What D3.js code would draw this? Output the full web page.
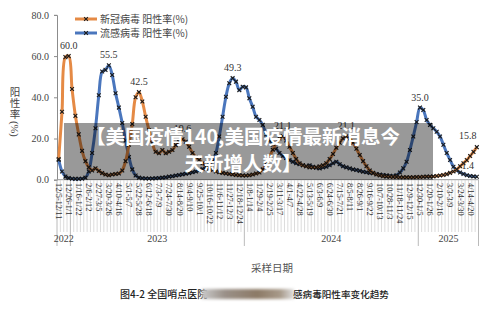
<!DOCTYPE html>
<html>
<head>
<meta charset="utf-8">
<script src="https://cdn.jsdelivr.net/npm/d3@7"></script>
<style>
  html, body { margin: 0; padding: 0; background: #fff; }
  svg { display: block; }
</style>
</head>
<body>
<div id="chart"></div>
<script>
// weekly positivity rate (%), 2022-12-05 .. 2025-05-04
const covid = [
  10, 33, 59.5, 60.0, 44, 31, 22, 14, 9, 6,
  4.5, 5.5, 4.2, 3.2, 2.5, 2.2, 2.5, 2.8, 3, 4.5,
  9, 17, 27, 40, 42.5, 38, 30.6, 24, 17.7, 13.6,
  12.8, 14.4, 12.8, 13.6, 14.4, 16.8, 18.4, 19.6, 18.4, 16,
  13, 11, 9.6, 8, 6.3, 5.5, 4.7, 4, 3.6, 3.3,
  3, 2.8, 2.5, 2.3, 2.2, 2, 2, 2.2, 2.5, 3,
  3.5, 5, 7.5, 11, 14.5, 17.5, 20, 21.1, 19, 16,
  13, 10, 8, 7, 6.5, 6, 6, 6, 6.5, 7,
  8, 10, 12.5, 15.5, 18, 20, 21.1, 20, 18, 15,
  12, 9, 6.5, 4.5, 3.3, 2.5, 2, 1.7, 1.5, 1.4,
  1.3, 1.3, 1.2, 1.2, 1.2, 1.2, 1.2, 1.3, 1.3, 1.4,
  1.5, 1.5, 1.6, 1.8, 2, 2.3, 2.7, 3.3, 4, 5,
  6.5, 8, 9.5, 11.5, 13.5, 15.8
];
const flu = [
  9.6, 4, 1.5, 0.8, 0.5, 0.4, 0.4, 0.5, 1, 4,
  13, 25, 41, 52.5, 53.3, 55.5, 50.8, 42, 35, 27.5,
  19, 11, 5, 2, 1, 0.7, 0.6, 0.6, 0.6, 0.7,
  0.8, 1, 1.2, 1.5, 1.7, 2, 2.3, 2.6, 2.9, 3.2,
  3.6, 4, 4.5, 5.2, 6, 7.5, 9, 13, 21, 30.6,
  40.3, 46.8, 49.3, 47.6, 43.5, 45.1, 44.8, 39.5, 35.4, 30.6,
  29, 26.6, 22, 19, 17, 15, 13, 11.5, 10.5, 9.5,
  8.7, 8, 7.5, 7, 6.5, 7, 6.3, 5.8, 5.5, 6,
  6.3, 7, 8, 8.7, 7.5, 6.5, 6, 5.5, 5, 4.7,
  4.3, 3.9, 3.6, 3.3, 3.1, 2.8, 2.5, 2.3, 2.1, 1.9,
  1.8, 2.2, 3.5, 5.5, 8.7, 14.4, 21, 28, 35.0, 33.8,
  29, 26.6, 25, 23.3, 21, 17, 13, 9.6, 6.3, 4.5,
  3.5, 2.8, 2.2, 1.8, 1.6, 1.4
];
// one label every third week
const tickLabels = [
  '12/5-12/11', '12/26-1/1', '1/16-1/22', '2/6-2/12', '2/27-3/5', '3/20-3/26',
  '4/10-4/16', '5/1-5/7', '5/22-5/28', '6/12-6/18', '7/3-7/9', '7/24-7/30',
  '8/14-8/20', '9/4-9/10', '9/25-10/1', '10/16-10/22', '11/6-11/12', '11/27-12/3',
  '12/18-12/24', '1/8-1/14', '1/29-2/4', '2/19-2/25', '3/11-3/17', '4/1-4/7',
  '4/22-4/28', '5/13-5/19', '6/3-6/9', '6/24-6/30', '7/15-7/21', '8/5-8/11',
  '8/26-9/1', '9/16-9/22', '10/7-10/13', '10/28-11/3', '11/18-11/24', '12/9-12/15',
  '12/30-1/5', '1/20-1/26', '2/10-2/16', '3/3-3/9', '3/24-3/30', '4/14-4/20'
];
const tickEvery = 3;
const years = ['2022', '2023', '2024', '2025'];
const yearStarts = [0, 4, 56, 108];
const yTicks = [0, 20, 40, 60, 80];
const covidLabelIdx = [3, 24, 37, 67, 86, 125];
const fluLabelIdx = [15, 52, 108, 125];
const seriesNames = ['新冠病毒 阳性率(%)', '流感病毒 阳性率(%)'];
const headline = ['【美国疫情140,美国疫情最新消息今', '天新增人数】'];

const W = 500, H = 309;
const ORANGE = '#E58A45', BLUE = '#4A76BD';
const SERIF = '"Liberation Serif", "Times New Roman", serif';
const CJK = '"Noto Sans CJK SC", sans-serif';
const n = covid.length;

const svg = d3.select('#chart').append('svg').attr('width', W).attr('height', H);

const x = d3.scaleLinear().domain([-0.5, n - 0.5]).range([57, 478.5]);
const y = d3.scaleLinear().domain([0, 80]).range([179.7, 14.9]);

// y axis
const yAxis = svg.append('g').attr('transform', `translate(${x(-0.5)},0)`)
  .call(d3.axisLeft(y).tickValues(yTicks).tickSize(3).tickPadding(5).tickFormat(d3.format('.1f')));
yAxis.select('.domain').attr('stroke', '#8c8c8c');
yAxis.selectAll('.tick line').attr('stroke', '#8c8c8c');
yAxis.selectAll('text').attr('font-family', SERIF).attr('font-size', 10).attr('fill', '#444');

// x axis: week grid lines, labels, year groups
const gx = svg.append('g');
gx.append('line').attr('x1', x(-0.5)).attr('x2', x(n - 0.5)).attr('y1', y(0)).attr('y2', y(0))
  .attr('stroke', '#9a9a9a').attr('stroke-width', 1);
gx.selectAll('line.wk').data(d3.range(n).filter(i => !yearStarts.includes(i))).join('line')
  .attr('class', 'wk')
  .attr('x1', i => x(i - 0.5)).attr('x2', i => x(i - 0.5))
  .attr('y1', y(0)).attr('y2', 232)
  .attr('stroke', '#c4c4c4').attr('stroke-width', 0.6);
gx.selectAll('line.yr').data(yearStarts.concat([n])).join('line')
  .attr('class', 'yr')
  .attr('x1', i => x(i - 0.5)).attr('x2', i => x(i - 0.5))
  .attr('y1', y(0)).attr('y2', 246)
  .attr('stroke', '#a8a8a8').attr('stroke-width', 0.8);
gx.selectAll('text.tl').data(tickLabels).join('text')
  .attr('class', 'tl')
  .attr('transform', (d, i) => `translate(${x(i * tickEvery) - 2.6},183) rotate(90)`)
  .attr('font-family', SERIF).attr('font-size', 8.4).attr('fill', '#333')
  .text(d => d);
gx.selectAll('text.yr').data(years).join('text')
  .attr('class', 'yr')
  .attr('x', (d, i) => (x(yearStarts[i] - 0.5) + x((yearStarts[i + 1] ?? n) - 0.5)) / 2)
  .attr('y', 242)
  .attr('text-anchor', 'middle')
  .attr('font-family', SERIF).attr('font-size', 10).attr('fill', '#444')
  .text(d => d);

// y axis title
const yt = svg.append('g').attr('font-family', CJK).attr('font-size', 10.5).attr('fill', '#444');
['阳', '性', '率'].forEach((c, i) => {
  yt.append('text').attr('x', 15).attr('y', 96 + i * 10.8).attr('text-anchor', 'middle').text(c);
});
yt.append('text').attr('transform', 'translate(11,121) rotate(90)')
  .attr('font-family', SERIF).text('(%)');

// lines
const line = d3.line().x((d, i) => x(i)).y(d => y(d)).curve(d3.curveCatmullRom.alpha(0.5));
const xMark = 'M-1.9,-1.9L1.9,1.9M-1.9,1.9L1.9,-1.9';

function drawSeries(data, color) {
  const g = svg.append('g');
  g.append('path').datum(data).attr('d', line)
    .attr('fill', 'none').attr('stroke', color).attr('stroke-width', 3).attr('stroke-linejoin', 'round');
  g.selectAll('path.m').data(data).join('path')
    .attr('class', 'm')
    .attr('transform', (d, i) => `translate(${x(i)},${y(d)})`)
    .attr('d', xMark).attr('stroke', '#1a1a1a').attr('stroke-width', 1.1);
}
drawSeries(flu, BLUE);
drawSeries(covid, ORANGE);

// data labels
function drawLabels(data, idx) {
  svg.append('g').selectAll('text').data(idx).join('text')
    .attr('x', i => i === n - 1 ? x(i) - 9 : x(i))
    .attr('y', i => i === n - 1 ? y(data[i]) - 8 : y(data[i]) - 7)
    .attr('text-anchor', 'middle')
    .attr('font-family', SERIF).attr('font-size', 10).attr('fill', '#333')
    .text(i => data[i].toFixed(1));
}
drawLabels(covid, covidLabelIdx);
drawLabels(flu, fluLabelIdx);

// legend
const lg = svg.append('g');
[ORANGE, BLUE].forEach((c, i) => {
  const ly = 19 + i * 14;
  lg.append('line').attr('x1', 75).attr('x2', 97).attr('y1', ly).attr('y2', ly)
    .attr('stroke', c).attr('stroke-width', 3);
  lg.append('path').attr('transform', `translate(86,${ly})`).attr('d', xMark)
    .attr('stroke', '#1a1a1a').attr('stroke-width', 1.1);
  lg.append('text').attr('x', 100).attr('y', ly + 3.8)
    .attr('font-family', CJK).attr('font-size', 10).attr('fill', '#444')
    .text(seriesNames[i]);
});

// x axis title
svg.append('text').attr('x', 251).attr('y', 272)
  .attr('font-family', CJK).attr('font-size', 10.5).attr('fill', '#555').text('采样日期');

// caption with smudged middle
const defs = svg.append('defs');
defs.append('filter').attr('id', 'smudge').attr('x', '-20%').attr('y', '-60%').attr('width', '140%').attr('height', '220%')
  .append('feGaussianBlur').attr('stdDeviation', 1.6);
const grad = defs.append('linearGradient').attr('id', 'sg');
[['0%', '#c9c9c9'], ['25%', '#9a9088'], ['60%', '#8c7a66'], ['85%', '#a89a8a'], ['100%', '#dedede']]
  .forEach(([o, c]) => grad.append('stop').attr('offset', o).attr('stop-color', c));
svg.append('text').attr('x', 120).attr('y', 298)
  .attr('font-family', CJK).attr('font-size', 10).attr('font-weight', 500).attr('fill', '#222')
  .text('图4-2 全国哨点医院');
svg.append('rect').attr('x', 202).attr('y', 289).attr('width', 92).attr('height', 10)
  .attr('fill', 'url(#sg)').attr('filter', 'url(#smudge)');
svg.append('text').attr('x', 293).attr('y', 298)
  .attr('font-family', CJK).attr('font-size', 9.6).attr('font-weight', 500).attr('fill', '#222')
  .text('感病毒阳性率变化趋势');

// headline overlay
svg.append('rect').attr('x', 64).attr('y', 123).attr('width', 369).attr('height', 57)
  .attr('fill', '#000').attr('fill-opacity', 0.4);
svg.append('g').attr('font-family', CJK).attr('font-weight', 700).attr('font-size', 19.5)
  .attr('fill', '#fff').attr('text-anchor', 'middle')
  .selectAll('text').data(headline).join('text')
  .attr('x', 243).attr('y', (d, i) => 144 + i * 27)
  .text(d => d);
</script>
</body>
</html>
